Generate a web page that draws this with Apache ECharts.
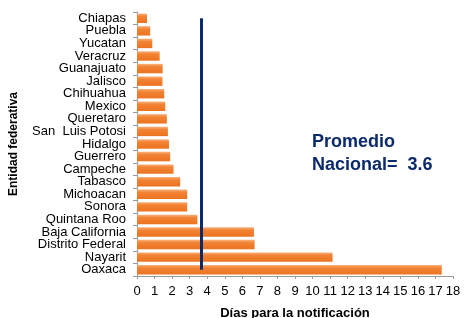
<!DOCTYPE html>
<html>
<head>
<meta charset="utf-8">
<script src="https://cdn.jsdelivr.net/npm/echarts@6/dist/echarts.min.js"></script>
<style>
html,body{margin:0;padding:0;background:#fff;}
#main{width:464px;height:318px;}
</style>
</head>
<body>
<div id="main"></div>
<script>
var estados = ['Chiapas','Puebla','Yucatan','Veracruz','Guanajuato','Jalisco','Chihuahua','Mexico','Queretaro','San  Luis Potosi','Hidalgo','Guerrero','Campeche','Tabasco','Michoacan','Sonora','Quintana Roo','Baja California','Distrito Federal','Nayarit','Oaxaca'];
var dias = [0.57,0.75,0.87,1.29,1.46,1.45,1.55,1.61,1.70,1.76,1.82,1.89,2.08,2.46,2.86,2.86,3.44,6.66,6.70,11.14,17.36];
var promedio = 3.65;
var xTicks = [0,18,1];

var chart = echarts.init(document.getElementById('main'));

var option = {
	backgroundColor: '#fff',
	animation: false,
	grid: {
		left: 137,
		right: 11,
		top: 12,
		bottom: 42,
		outerBoundsMode: 'none'
	},
	xAxis: {
		type: 'value',
		min: xTicks[0],
		max: xTicks[1],
		interval: xTicks[2],
		name: 'Días para la notificación',
		nameLocation: 'middle',
		nameGap: 31,
		nameTextStyle: {color: '#000', fontWeight: 'bold', fontSize: 13, fontFamily: 'Liberation Sans'},
		splitLine: {show: false},
		axisLine: {show: true, lineStyle: {color: '#999'}},
		axisTick: {show: true, length: 3, lineStyle: {color: '#999'}},
		axisLabel: {color: '#000', fontSize: 13, fontFamily: 'Liberation Sans', margin: 9, hideOverlap: false}
	},
	yAxis: {
		type: 'category',
		data: estados,
		inverse: true,
		name: 'Entidad federativa',
		nameLocation: 'middle',
		nameGap: 117,
		nameRotate: 90,
		nameTextStyle: {color: '#000', fontWeight: 'bold', fontSize: 12, fontFamily: 'Liberation Sans'},
		axisLine: {show: true, lineStyle: {color: '#999'}},
		axisTick: {show: true, length: 4, lineStyle: {color: '#999'}},
		axisLabel: {color: '#000', fontSize: 13, fontFamily: 'Liberation Sans', margin: 11, interval: 0, hideOverlap: false}
	},
	series: [{
		type: 'bar',
		data: dias,
		barCategoryGap: '25%',
		itemStyle: {
			color: new echarts.graphic.LinearGradient(0,0,0,1,[{offset:0,color:'#f9b07c'},{offset:0.3,color:'#f28334'},{offset:1,color:'#ec7320'}])
		},
		markLine: {
			silent: true,
			symbol: 'none',
			label: {show: false},
			lineStyle: {color: '#0b2a6b', width: 3, type: 'solid'},
			data: [[{coord: [promedio, 'Chiapas']}, {coord: [promedio, 'Oaxaca']}]]
		}
	}],
	graphic: [{
		type: 'text',
		left: 312,
		top: 131,
		style: {
			text: 'Promedio\nNacional=  3.6',
			fill: '#0b2a6b',
			font: 'bold 18px "Liberation Sans"',
			lineHeight: 23
		}
	}]
};
chart.setOption(option);
</script>
</body>
</html>
